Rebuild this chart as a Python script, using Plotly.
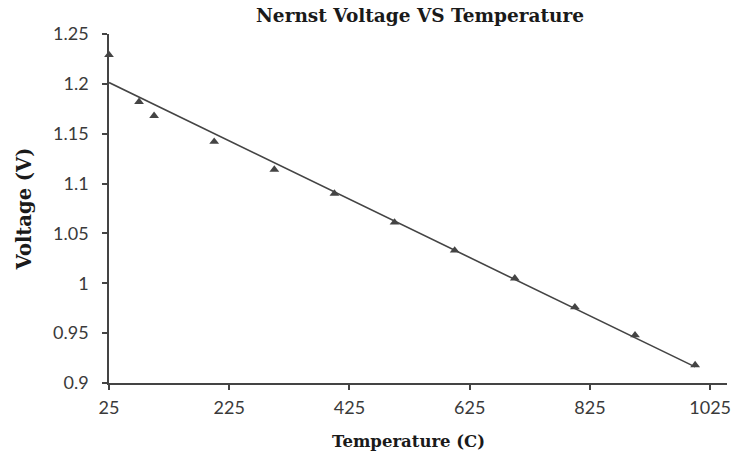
import numpy as np
import plotly.graph_objects as go

temperature = [25, 75, 100, 200, 300, 400, 500, 600, 700, 800, 900, 1000]
voltage = [1.229, 1.182, 1.168, 1.142, 1.114, 1.090, 1.061, 1.033, 1.005, 0.976, 0.948, 0.918]
x_ticks = [25, 225, 425, 625, 825, 1025]
y_ticks = [0.9, 0.95, 1.0, 1.05, 1.1, 1.15, 1.2, 1.25]
y_tick_text = ["0.9", "0.95", "1", "1.05", "1.1", "1.15", "1.2", "1.25"]

slope, intercept = np.polyfit(temperature, voltage, 1)
trend_x = [min(temperature), max(temperature)]
trend_y = [intercept + slope * t for t in trend_x]

axis_col = "#444444"
fig = go.Figure()
fig.add_trace(go.Scatter(x=trend_x, y=trend_y, mode="lines",
                         line=dict(color="#444444", width=1.6), showlegend=False))
fig.add_trace(go.Scatter(x=temperature, y=voltage, mode="markers",
                         marker=dict(symbol="triangle-up", size=8.5, color="#444444"),
                         showlegend=False, cliponaxis=False))

fig.update_layout(
    width=737, height=463,
    margin=dict(l=109, r=6, t=34, b=80),
    paper_bgcolor="white", plot_bgcolor="white",
    title=dict(text="<b>Nernst Voltage VS Temperature</b>", x=420 / 737, xanchor="center",
               y=1 - 16 / 463, yanchor="middle",
               font=dict(family="DejaVu Serif", size=18.5, color="#1a1a1a")),
    xaxis=dict(range=[25, 1053], tickvals=x_ticks, ticktext=[str(v) for v in x_ticks],
               showgrid=False, zeroline=False, showline=True, linecolor=axis_col, linewidth=1.6,
               ticks="outside", ticklen=5, tickcolor=axis_col, tickwidth=1.5,
               ticklabelstandoff=3,
               tickfont=dict(family="Lato", size=18, color="#3a3a3a")),
    yaxis=dict(range=[0.9, 1.25], tickvals=y_ticks, ticktext=y_tick_text,
               showgrid=False, zeroline=False, showline=True, linecolor=axis_col, linewidth=1.6,
               ticks="outside", ticklen=5, tickcolor=axis_col, tickwidth=1.5,
               ticklabelstandoff=10,
               tickfont=dict(family="Lato", size=18, color="#3a3a3a"),
               title=dict(text="<b>Voltage (V)</b>", standoff=16,
                          font=dict(family="DejaVu Serif", size=19.5, color="#1a1a1a"))),
    annotations=[dict(text="<b>Temperature (C)</b>", xref="paper", yref="paper",
                      x=(410 - 109) / (731 - 109), y=-(442 - 383) / (383 - 34),
                      xanchor="center", yanchor="middle", showarrow=False,
                      font=dict(family="DejaVu Serif", size=16.5, color="#1a1a1a"))],
)
fig.write_html("out.html")
